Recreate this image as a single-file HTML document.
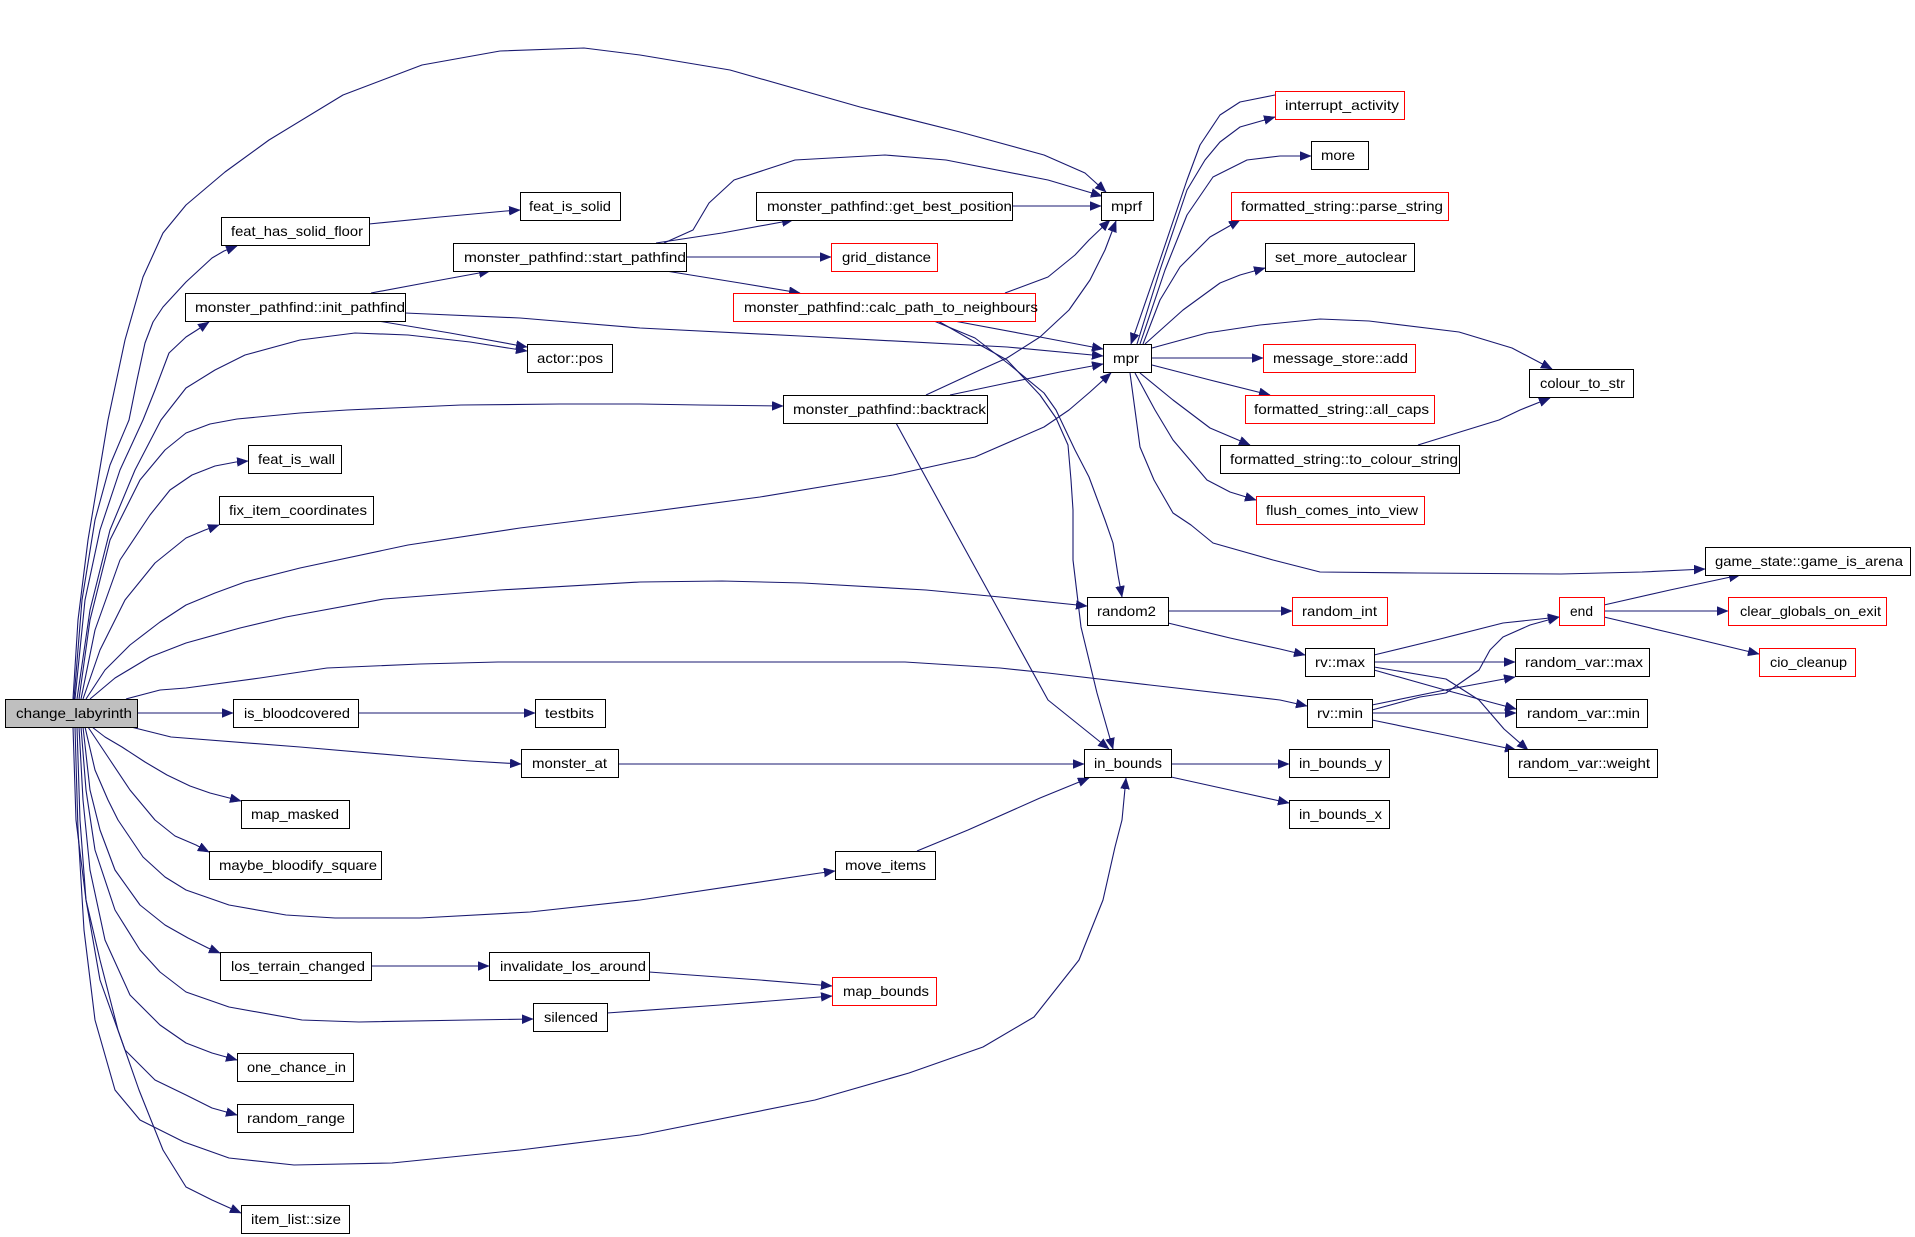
<!DOCTYPE html>
<html><head><meta charset="utf-8"><style>
html,body{margin:0;padding:0;background:#fff;}
svg{display:block;}
.e{fill:none;stroke:#191970;stroke-width:1.1;stroke-linejoin:round;marker-end:url(#ah);}
.n{fill:#fff;stroke:#000;stroke-width:1;}
.r{fill:#fff;stroke:#ff0000;stroke-width:1;}
text{font-family:"Liberation Sans",Arial,sans-serif;font-size:14px;fill:#000;}
</style></head><body>
<svg width="1915" height="1237" viewBox="0 0 1915 1237" xmlns="http://www.w3.org/2000/svg">
<defs>
<marker id="ah" markerUnits="userSpaceOnUse" markerWidth="12" markerHeight="10" refX="11" refY="4.5" orient="auto">
<path d="M0,0 L11,4.5 L0,9 z" fill="#191970" stroke="#191970" stroke-width="0.5"/>
</marker>
</defs>
<rect width="1915" height="1237" fill="#fff"/>

<!-- edges from change_labyrinth -->
<path class="e" d="M73,699 L78,620 L88,540 L98,480 L108,420 L125,340 L143,277 L163,233 L186,205 L225,172 L269,140 L343,95 L422,65 L500,51 L584,48 L640,55 L730,70 L860,107 L960,132 L1044,155 L1085,173 L1106,192"/>
<path class="e" d="M74,699 L82,600 L95,520 L110,465 L129,420 L137,380 L145,343 L153,322 L163,307 L186,282 L212,258 L224,251 L237,246"/>
<path class="e" d="M75,699 L85,600 L100,530 L120,470 L143,420 L155,390 L169,353 L186,337 L197,330 L209,322"/>
<path class="e" d="M77,699 L90,610 L110,530 L135,470 L161,420 L186,388 L215,370 L245,355 L300,340 L355,333 L408,335 L470,342 L527,351"/>
<path class="e" d="M79,699 L90,620 L110,540 L140,480 L165,450 L186,433 L210,424 L237,419 L300,413 L347,410 L461,405 L560,404 L640,404 L700,405 L783,406"/>
<path class="e" d="M81,699 L95,630 L120,560 L150,515 L170,490 L192,475 L215,466 L236,462 L248,461"/>
<path class="e" d="M83,699 L100,650 L125,600 L155,563 L186,538 L205,530 L219,525"/>
<path class="e" d="M86,699 L105,670 L130,645 L160,622 L186,605 L215,593 L245,582 L300,568 L408,545 L520,528 L640,513 L760,497 L893,475 L975,457 L1044,427 L1069,410 L1090,392 L1111,373"/>
<path class="e" d="M90,699 L115,678 L150,657 L186,643 L240,628 L286,617 L384,599 L500,590 L640,582 L722,581 L803,583 L926,590 L1000,597 L1087,606"/>
<path class="e" d="M126,699 L160,690 L186,688 L260,678 L327,668 L420,664 L498,662 L640,662 L780,662 L905,662 L1000,668 L1048,673 L1150,685 L1280,700 L1307,706"/>
<path class="e" d="M137,713 L233,713"/>
<path class="e" d="M131,727 L171,737 L300,747 L416,757 L470,761 L521,764"/>
<path class="e" d="M92,727 L105,737 L122,747 L145,762 L167,775 L190,786 L210,793 L241,801"/>
<path class="e" d="M88,727 L110,760 L130,790 L155,820 L175,836 L196,845 L209,852"/>
<path class="e" d="M85,727 L95,770 L108,800 L118,820 L143,857 L165,877 L186,890 L229,905 L286,915 L335,918 L420,918 L530,912 L640,900 L820,873 L835,871"/>
<path class="e" d="M83,727 L90,790 L100,830 L115,870 L140,905 L165,925 L188,938 L208,948 L220,953"/>
<path class="e" d="M81,727 L86,790 L95,850 L115,910 L140,950 L160,972 L186,992 L229,1007 L302,1020 L359,1022 L469,1020 L533,1019"/>
<path class="e" d="M79,727 L83,800 L90,870 L105,940 L130,995 L160,1025 L186,1043 L212,1053 L237,1060"/>
<path class="e" d="M77,727 L80,820 L86,900 L100,980 L125,1050 L155,1080 L186,1095 L212,1108 L237,1115"/>
<path class="e" d="M75,727 L78,830 L84,930 L95,1020 L115,1090 L140,1120 L184,1142 L229,1158 L294,1165 L392,1163 L520,1150 L640,1135 L815,1100 L909,1073 L983,1047 L1034,1017 L1079,960 L1103,900 L1115,847 L1122,820 L1126,778"/>
<path class="e" d="M73,727 L76,820 L86,900 L100,960 L118,1030 L139,1090 L163,1150 L186,1187 L212,1200 L241,1213"/>

<!-- other edges -->
<path class="e" d="M369,224 L440,217 L506,211 L520,210"/>
<path class="e" d="M371,293 L430,282 L490,271"/>
<path class="e" d="M405,313 L520,318 L640,328 L800,336 L1007,347 L1103,356"/>
<path class="e" d="M378,321 L450,333 L527,347"/>
<path class="e" d="M656,243 L722,233 L793,220"/>
<path class="e" d="M664,243 L693,230 L709,203 L734,180 L795,160 L885,155 L946,160 L1048,180 L1102,196"/>
<path class="e" d="M686,257 L831,257"/>
<path class="e" d="M666,271 L740,283 L800,293"/>
<path class="e" d="M1012,206 L1101,206"/>
<path class="e" d="M1005,293 L1048,277 L1075,255 L1089,240 L1110,220"/>
<path class="e" d="M954,321 L1040,337 L1103,349"/>
<path class="e" d="M934,321 L975,338 L1010,365 L1044,393 L1056,410 L1075,450 L1089,477 L1105,520 L1113,543 L1118,575 L1122,597"/>
<path class="e" d="M938,321 L980,345 L1007,360 L1040,395 L1056,418 L1068,445 L1071,480 L1073,510 L1073,560 L1081,627 L1097,693 L1113,749"/>
<path class="e" d="M926,395 L980,370 L1007,358 L1040,337 L1069,310 L1090,280 L1105,250 L1116,221"/>
<path class="e" d="M950,395 L1007,383 L1060,372 L1103,364"/>
<path class="e" d="M896,423 L960,540 L1048,700 L1109,749"/>
<path class="e" d="M617,764 L1084,764"/>
<path class="e" d="M917,851 L968,830 L1040,798 L1089,778"/>
<path class="e" d="M371,966 L489,966"/>
<path class="e" d="M649,972 L760,980 L832,986"/>
<path class="e" d="M607,1013 L720,1005 L832,996"/>
<path class="e" d="M357,713 L535,713"/>

<!-- mpr fan -->
<path class="e" d="M1137,344 L1160,270 L1187,190 L1205,160 L1220,142 L1240,127 L1275,117"/>
<path class="e" d="M1275,95 L1240,102 L1220,115 L1200,145 L1187,180 L1160,260 L1131,344"/>
<path class="e" d="M1140,344 L1165,270 L1187,215 L1213,177 L1247,160 L1280,156 L1311,156"/>
<path class="e" d="M1143,344 L1160,300 L1180,267 L1210,237 L1240,220"/>
<path class="e" d="M1145,344 L1183,310 L1220,283 L1240,275 L1265,268"/>
<path class="e" d="M1152,348 L1207,333 L1260,325 L1320,319 L1369,321 L1459,332 L1512,348 L1552,369"/>
<path class="e" d="M1151,358 L1263,358"/>
<path class="e" d="M1152,365 L1210,380 L1270,395"/>
<path class="e" d="M1140,373 L1173,400 L1210,428 L1250,445"/>
<path class="e" d="M1135,373 L1155,410 L1173,440 L1207,480 L1230,492 L1256,500"/>
<path class="e" d="M1130,373 L1135,410 L1140,447 L1154,480 L1173,513 L1191,525 L1213,543 L1273,560 L1320,572 L1418,573 L1561,574 L1642,572 L1705,569"/>
<path class="e" d="M1418,445 L1460,432 L1499,420 L1520,410 L1550,398"/>

<!-- random / end cluster -->
<path class="e" d="M1168,611 L1292,611"/>
<path class="e" d="M1168,623 L1230,638 L1280,649 L1305,655"/>
<path class="e" d="M1374,655 L1440,639 L1503,623 L1559,617"/>
<path class="e" d="M1374,662 L1515,662"/>
<path class="e" d="M1374,670 L1445,690 L1516,709"/>
<path class="e" d="M1374,667 L1446,679 L1479,700 L1504,729 L1528,750"/>
<path class="e" d="M1372,710 L1420,697 L1446,693 L1479,670 L1490,650 L1503,637 L1530,625 L1559,617"/>
<path class="e" d="M1372,705 L1445,690 L1515,677"/>
<path class="e" d="M1372,713 L1516,713"/>
<path class="e" d="M1372,720 L1445,735 L1516,750"/>
<path class="e" d="M1604,605 L1670,590 L1740,575"/>
<path class="e" d="M1604,611 L1728,611"/>
<path class="e" d="M1604,617 L1680,635 L1759,654"/>
<path class="e" d="M1171,764 L1289,764"/>
<path class="e" d="M1171,777 L1230,790 L1289,803"/>

<!-- nodes -->
<g>
<rect x="5.5" y="699.5" width="132" height="28" fill="#bfbfbf" stroke="#000"/>
<text x="16" y="718" textLength="116" lengthAdjust="spacingAndGlyphs">change_labyrinth</text>

<rect class="n" x="221.5" y="217.5" width="148" height="28"/>
<text x="231" y="236" textLength="132" lengthAdjust="spacingAndGlyphs">feat_has_solid_floor</text>

<rect class="n" x="520.5" y="192.5" width="100" height="28"/>
<text x="529" y="211" textLength="82" lengthAdjust="spacingAndGlyphs">feat_is_solid</text>

<rect class="n" x="453.5" y="243.5" width="233" height="28"/>
<text x="464" y="262" textLength="222" lengthAdjust="spacingAndGlyphs">monster_pathfind::start_pathfind</text>

<rect class="n" x="185.5" y="293.5" width="220" height="28"/>
<text x="195" y="312" textLength="210" lengthAdjust="spacingAndGlyphs">monster_pathfind::init_pathfind</text>

<rect class="n" x="527.5" y="344.5" width="85" height="28"/>
<text x="537" y="363" textLength="66" lengthAdjust="spacingAndGlyphs">actor::pos</text>

<rect class="n" x="756.5" y="192.5" width="256" height="28"/>
<text x="767" y="211" textLength="245" lengthAdjust="spacingAndGlyphs">monster_pathfind::get_best_position</text>

<rect class="n" x="1101.5" y="192.5" width="52" height="28"/>
<text x="1111" y="211" textLength="31" lengthAdjust="spacingAndGlyphs">mprf</text>

<rect class="r" x="831.5" y="243.5" width="106" height="28"/>
<text x="842" y="262" textLength="89" lengthAdjust="spacingAndGlyphs">grid_distance</text>

<rect class="r" x="733.5" y="293.5" width="302" height="28"/>
<text x="744" y="312" textLength="294" lengthAdjust="spacingAndGlyphs">monster_pathfind::calc_path_to_neighbours</text>

<rect class="n" x="1103.5" y="344.5" width="48" height="28"/>
<text x="1113" y="363" textLength="26" lengthAdjust="spacingAndGlyphs">mpr</text>

<rect class="n" x="783.5" y="395.5" width="204" height="28"/>
<text x="793" y="414" textLength="193" lengthAdjust="spacingAndGlyphs">monster_pathfind::backtrack</text>

<rect class="r" x="1275.5" y="91.5" width="129" height="28"/>
<text x="1285" y="110" textLength="114" lengthAdjust="spacingAndGlyphs">interrupt_activity</text>

<rect class="n" x="1311.5" y="141.5" width="57" height="28"/>
<text x="1321" y="160" textLength="34" lengthAdjust="spacingAndGlyphs">more</text>

<rect class="r" x="1231.5" y="192.5" width="217" height="28"/>
<text x="1241" y="211" textLength="202" lengthAdjust="spacingAndGlyphs">formatted_string::parse_string</text>

<rect class="n" x="1265.5" y="243.5" width="149" height="28"/>
<text x="1275" y="262" textLength="132" lengthAdjust="spacingAndGlyphs">set_more_autoclear</text>

<rect class="r" x="1263.5" y="344.5" width="152" height="28"/>
<text x="1273" y="363" textLength="135" lengthAdjust="spacingAndGlyphs">message_store::add</text>

<rect class="r" x="1245.5" y="395.5" width="189" height="28"/>
<text x="1254" y="414" textLength="175" lengthAdjust="spacingAndGlyphs">formatted_string::all_caps</text>

<rect class="n" x="1529.5" y="369.5" width="104" height="28"/>
<text x="1540" y="388" textLength="85" lengthAdjust="spacingAndGlyphs">colour_to_str</text>

<rect class="n" x="1220.5" y="445.5" width="239" height="28"/>
<text x="1230" y="464" textLength="228" lengthAdjust="spacingAndGlyphs">formatted_string::to_colour_string</text>

<rect class="r" x="1256.5" y="496.5" width="168" height="28"/>
<text x="1266" y="515" textLength="152" lengthAdjust="spacingAndGlyphs">flush_comes_into_view</text>

<rect class="n" x="1705.5" y="547.5" width="205" height="28"/>
<text x="1715" y="566" textLength="188" lengthAdjust="spacingAndGlyphs">game_state::game_is_arena</text>

<rect class="n" x="248.5" y="445.5" width="93" height="28"/>
<text x="258" y="464" textLength="77" lengthAdjust="spacingAndGlyphs">feat_is_wall</text>

<rect class="n" x="219.5" y="496.5" width="154" height="28"/>
<text x="229" y="515" textLength="138" lengthAdjust="spacingAndGlyphs">fix_item_coordinates</text>

<rect class="n" x="1087.5" y="597.5" width="81" height="28"/>
<text x="1097" y="616" textLength="59" lengthAdjust="spacingAndGlyphs">random2</text>

<rect class="r" x="1292.5" y="597.5" width="95" height="28"/>
<text x="1302" y="616" textLength="75" lengthAdjust="spacingAndGlyphs">random_int</text>

<rect class="r" x="1559.5" y="597.5" width="45" height="28"/>
<text x="1570" y="616" textLength="23" lengthAdjust="spacingAndGlyphs">end</text>

<rect class="r" x="1728.5" y="597.5" width="158" height="28"/>
<text x="1740" y="616" textLength="141" lengthAdjust="spacingAndGlyphs">clear_globals_on_exit</text>

<rect class="n" x="1305.5" y="648.5" width="69" height="28"/>
<text x="1315" y="667" textLength="50" lengthAdjust="spacingAndGlyphs">rv::max</text>

<rect class="n" x="1515.5" y="648.5" width="134" height="28"/>
<text x="1525" y="667" textLength="118" lengthAdjust="spacingAndGlyphs">random_var::max</text>

<rect class="r" x="1759.5" y="648.5" width="96" height="28"/>
<text x="1770" y="667" textLength="77" lengthAdjust="spacingAndGlyphs">cio_cleanup</text>

<rect class="n" x="233.5" y="699.5" width="125" height="28"/>
<text x="244" y="718" textLength="106" lengthAdjust="spacingAndGlyphs">is_bloodcovered</text>

<rect class="n" x="535.5" y="699.5" width="70" height="28"/>
<text x="545" y="718" textLength="49" lengthAdjust="spacingAndGlyphs">testbits</text>

<rect class="n" x="1307.5" y="699.5" width="65" height="28"/>
<text x="1317" y="718" textLength="46" lengthAdjust="spacingAndGlyphs">rv::min</text>

<rect class="n" x="1516.5" y="699.5" width="131" height="28"/>
<text x="1527" y="718" textLength="113" lengthAdjust="spacingAndGlyphs">random_var::min</text>

<rect class="n" x="521.5" y="749.5" width="97" height="28"/>
<text x="532" y="768" textLength="75" lengthAdjust="spacingAndGlyphs">monster_at</text>

<rect class="n" x="1084.5" y="749.5" width="87" height="28"/>
<text x="1094" y="768" textLength="68" lengthAdjust="spacingAndGlyphs">in_bounds</text>

<rect class="n" x="1289.5" y="749.5" width="100" height="28"/>
<text x="1299" y="768" textLength="83" lengthAdjust="spacingAndGlyphs">in_bounds_y</text>

<rect class="n" x="1508.5" y="749.5" width="149" height="28"/>
<text x="1518" y="768" textLength="132" lengthAdjust="spacingAndGlyphs">random_var::weight</text>

<rect class="n" x="241.5" y="800.5" width="108" height="28"/>
<text x="251" y="819" textLength="88" lengthAdjust="spacingAndGlyphs">map_masked</text>

<rect class="n" x="1289.5" y="800.5" width="100" height="28"/>
<text x="1299" y="819" textLength="83" lengthAdjust="spacingAndGlyphs">in_bounds_x</text>

<rect class="n" x="209.5" y="851.5" width="172" height="28"/>
<text x="219" y="870" textLength="158" lengthAdjust="spacingAndGlyphs">maybe_bloodify_square</text>

<rect class="n" x="835.5" y="851.5" width="100" height="28"/>
<text x="845" y="870" textLength="81" lengthAdjust="spacingAndGlyphs">move_items</text>

<rect class="n" x="220.5" y="952.5" width="151" height="28"/>
<text x="231" y="971" textLength="134" lengthAdjust="spacingAndGlyphs">los_terrain_changed</text>

<rect class="n" x="489.5" y="952.5" width="160" height="28"/>
<text x="500" y="971" textLength="146" lengthAdjust="spacingAndGlyphs">invalidate_los_around</text>

<rect class="r" x="832.5" y="977.5" width="104" height="28"/>
<text x="843" y="996" textLength="86" lengthAdjust="spacingAndGlyphs">map_bounds</text>

<rect class="n" x="533.5" y="1003.5" width="74" height="28"/>
<text x="544" y="1022" textLength="54" lengthAdjust="spacingAndGlyphs">silenced</text>

<rect class="n" x="237.5" y="1053.5" width="116" height="28"/>
<text x="247" y="1072" textLength="99" lengthAdjust="spacingAndGlyphs">one_chance_in</text>

<rect class="n" x="237.5" y="1104.5" width="116" height="28"/>
<text x="247" y="1123" textLength="98" lengthAdjust="spacingAndGlyphs">random_range</text>

<rect class="n" x="241.5" y="1205.5" width="108" height="28"/>
<text x="251" y="1224" textLength="90" lengthAdjust="spacingAndGlyphs">item_list::size</text>
</g>
</svg>
</body></html>
